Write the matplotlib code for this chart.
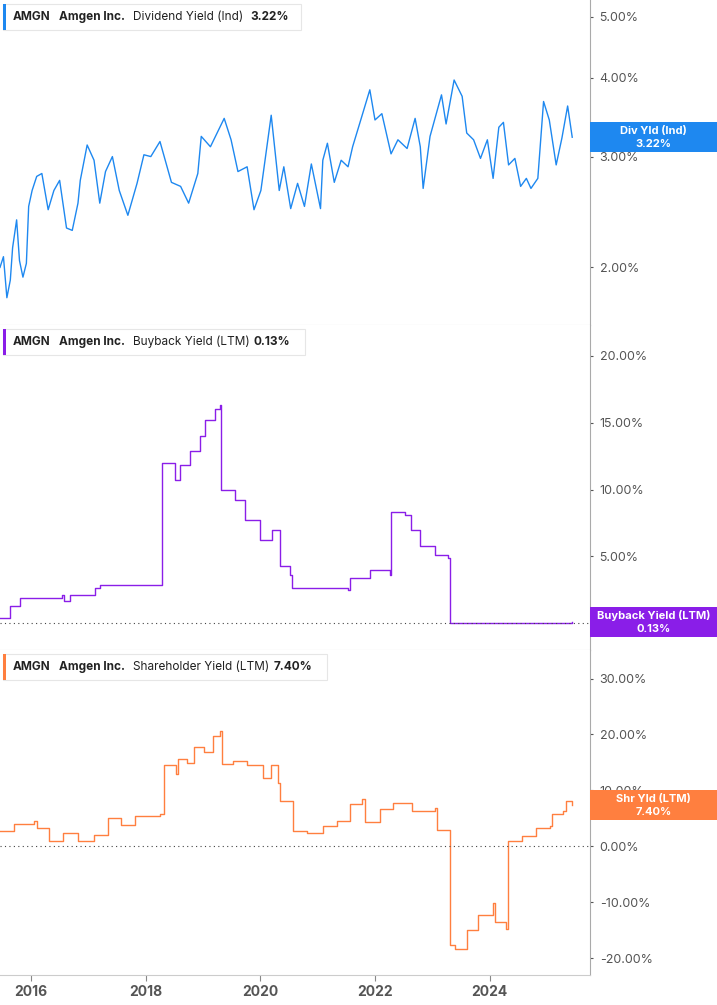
import numpy as np
import matplotlib.pyplot as plt
from matplotlib.patches import Rectangle
from matplotlib.ticker import FixedLocator, NullLocator

plt.rcParams['font.family'] = 'Inter'

# --- data ---
div_years = [2015.46, 2015.52, 2015.58, 2015.64, 2015.68, 2015.75, 2015.80, 2015.86, 2015.92, 2015.96,
             2016.02, 2016.10, 2016.19, 2016.30, 2016.40, 2016.50, 2016.62, 2016.72, 2016.82, 2016.86,
             2016.98, 2017.10, 2017.20, 2017.30, 2017.42, 2017.54, 2017.69, 2017.85, 2017.97, 2018.09,
             2018.25, 2018.45, 2018.61, 2018.75, 2018.91, 2018.97, 2019.13, 2019.37, 2019.49, 2019.61,
             2019.77, 2019.89, 2020.01, 2020.19, 2020.33, 2020.41, 2020.53, 2020.65, 2020.77, 2020.89,
             2021.05, 2021.09, 2021.17, 2021.29, 2021.41, 2021.53, 2021.61, 2021.76, 2021.91, 2022.00,
             2022.12, 2022.28, 2022.40, 2022.56, 2022.70, 2022.79, 2022.84, 2022.96, 2023.16, 2023.24,
             2023.38, 2023.52, 2023.60, 2023.72, 2023.84, 2023.96, 2024.06, 2024.16, 2024.24, 2024.33,
             2024.44, 2024.54, 2024.64, 2024.72, 2024.84, 2024.94, 2025.04, 2025.16, 2025.26, 2025.36,
             2025.44]
div_vals = [2.00, 2.08, 1.79, 1.91, 2.15, 2.38, 2.05, 1.93, 2.03, 2.50,
            2.65, 2.79, 2.82, 2.47, 2.65, 2.75, 2.31, 2.29, 2.53, 2.75,
            3.13, 2.96, 2.53, 2.84, 3.00, 2.65, 2.42, 2.72, 3.02, 3.00,
            3.17, 2.73, 2.69, 2.53, 2.82, 3.23, 3.11, 3.45, 3.19, 2.84,
            2.89, 2.47, 2.65, 3.49, 2.65, 2.89, 2.48, 2.72, 2.50, 2.92,
            2.48, 2.96, 3.15, 2.73, 2.96, 2.89, 3.11, 3.45, 3.83, 3.43,
            3.51, 3.03, 3.19, 3.09, 3.45, 3.11, 2.67, 3.23, 3.76, 3.38,
            3.97, 3.74, 3.27, 3.19, 2.98, 3.19, 2.77, 3.34, 3.40, 2.91,
            2.98, 2.69, 2.77, 2.67, 2.77, 3.67, 3.43, 2.91, 3.21, 3.61,
            3.22]

bb_years = [2015.46, 2015.63, 2015.81, 2016.54, 2016.58, 2016.68, 2017.12, 2017.21, 2018.25, 2018.29,
            2018.51, 2018.60, 2018.78, 2018.95, 2019.04, 2019.21, 2019.30, 2019.32, 2019.56, 2019.74,
            2020.00, 2020.21, 2020.35, 2020.52, 2020.56, 2021.53, 2021.57, 2021.92, 2022.27, 2022.28,
            2022.53, 2022.62, 2022.79, 2023.05, 2023.28, 2023.30, 2025.44]
bb_vals = [0.4, 1.3, 1.9, 2.1, 1.7, 2.1, 2.6, 2.85, 2.85, 12.0,
           10.7, 11.8, 12.9, 14.0, 15.2, 16.0, 16.3, 10.0, 9.2, 7.7,
           6.2, 7.0, 4.3, 3.6, 2.6, 2.5, 3.4, 4.0, 3.6, 8.3,
           8.1, 7.0, 5.8, 5.1, 4.9, 0.05, 0.13]

shr_years = [2015.46, 2015.70, 2016.06, 2016.10, 2016.32, 2016.56, 2016.82, 2017.10, 2017.34, 2017.57,
             2017.81, 2018.25, 2018.32, 2018.53, 2018.57, 2018.73, 2018.85, 2019.01, 2019.17, 2019.29,
             2019.33, 2019.53, 2019.77, 2020.05, 2020.18, 2020.31, 2020.34, 2020.57, 2020.82, 2021.09,
             2021.33, 2021.57, 2021.77, 2021.83, 2022.08, 2022.32, 2022.64, 2023.04, 2023.08, 2023.28,
             2023.30, 2023.40, 2023.60, 2023.80, 2024.06, 2024.10, 2024.28, 2024.32, 2024.56, 2024.80,
             2025.06, 2025.08, 2025.28, 2025.34, 2025.44]
shr_vals = [2.8, 4.0, 4.6, 3.3, 0.9, 2.4, 0.9, 2.1, 5.1, 3.8,
            5.4, 5.7, 14.6, 12.9, 15.6, 14.9, 17.7, 16.8, 19.8, 20.6,
            14.7, 15.3, 14.6, 12.3, 14.6, 11.4, 8.1, 2.7, 2.4, 3.6,
            4.5, 7.5, 8.4, 4.4, 6.6, 7.8, 6.3, 6.9, 3.0, 3.0,
            -17.7, -18.3, -15.0, -12.3, -10.2, -13.5, -14.7, 1.0, 1.8, 3.3,
            3.6, 5.8, 6.3, 8.1, 7.4]

x_ticks = [2016, 2018, 2020, 2022, 2024]

fig = plt.figure(figsize=(7.17, 10.05), dpi=100)
W, H = 717, 1005
right = 590 / W
tops = [0, 325, 650]
bots = [325, 650, 975]
axes = []
for t, b in zip(tops, bots):
    ax = fig.add_axes([0, 1 - b / H, right, (b - t) / H])
    axes.append(ax)

grey = '#555555'
for ax in axes:
    ax.set_xlim(2015.46, 2025.75)
    ax.yaxis.tick_right()
    for s in ['top', 'left']:
        ax.spines[s].set_visible(False)
    ax.spines['right'].set_color('#aaaaaa')
    ax.spines['bottom'].set_color('#cccccc')
    ax.tick_params(axis='y', colors=grey, labelsize=9, length=2, pad=5)
    ax.xaxis.set_major_locator(FixedLocator(x_ticks))
    ax.tick_params(axis='x', length=0, labelbottom=False)
axes[2].tick_params(axis='x', length=4, color='#888888', labelbottom=True,
                    labelsize=10, labelcolor=grey)
for lab in axes[2].get_xticklabels():
    lab.set_fontweight('bold')

# panel 1: dividend yield (log scale)
a1 = axes[0]
a1.plot(div_years, div_vals, color='#1e88f0', lw=1)
a1.set_yscale('log')
a1.set_ylim(1.62, 5.32)
a1.yaxis.set_major_locator(FixedLocator([2, 3, 4, 5]))
a1.yaxis.set_minor_locator(NullLocator())
a1.set_yticklabels(['2.00%', '3.00%', '4.00%', '5.00%'])

# panel 2: buyback yield
a2 = axes[1]
a2.plot(bb_years, bb_vals, color='#8a1ee8', lw=1, drawstyle='steps-post')
a2.set_ylim(-2.0, 22.3)
a2.set_yticks([5, 10, 15, 20])
a2.set_yticklabels(['5.00%', '10.00%', '15.00%', '20.00%'])
a2.axhline(0, color='#444444', lw=0.8, ls=(0, (1, 3)))

# panel 3: shareholder yield
a3 = axes[2]
a3.plot(shr_years, shr_vals, color='#ff7f3f', lw=1, drawstyle='steps-post')
a3.set_ylim(-23, 35.1)
yt = [-20, -10, 0, 10, 20, 30]
a3.set_yticks(yt)
a3.set_yticklabels([f'{v:.2f}%' for v in yt])
a3.axhline(0, color='#444444', lw=0.8, ls=(0, (1, 3)))

# legend boxes top-left
legends = [('Dividend Yield (Ind)', '3.22%', '#1e88f0', 298, 250),
           ('Buyback Yield (LTM)', '0.13%', '#8a1ee8', 302, 254),
           ('Shareholder Yield (LTM)', '7.40%', '#ff7f3f', 324, 274)]
for ax, (name, val, col, wpx, vx), t in zip(axes, legends, tops):
    y0 = 1 - (t + 30) / H
    fig.patches.append(Rectangle((3 / W, y0), wpx / W, 26 / H, transform=fig.transFigure,
                                 facecolor='white', edgecolor='#e6e6e6', lw=0.8))
    fig.patches.append(Rectangle((3 / W, y0), 3 / W, 26 / H, transform=fig.transFigure,
                                 facecolor=col, edgecolor='none'))
    yc = y0 + 13 / H
    fig.text(13 / W, yc, 'AMGN', fontsize=8.5, fontweight='bold', color='#222222', va='center')
    fig.text(59 / W, yc, 'Amgen Inc.', fontsize=8.5, fontweight='bold', color='#222222', va='center')
    fig.text(133 / W, yc, name, fontsize=8.5, color='#222222', va='center')
    fig.text(vx / W, yc, val, fontsize=8.5, fontweight='bold', color='#222222',
             va='center', ha='left')

# value tags on right
tags = [(a1, 3.22, 'Div Yld (Ind)', '3.22%', '#1e88f0'),
        (a2, 0.13, 'Buyback Yield (LTM)', '0.13%', '#8a1ee8'),
        (a3, 7.40, 'Shr Yld (LTM)', '7.40%', '#ff7f3f')]
for ax, v, l1, l2, col in tags:
    yd = ax.transData.transform((2020, v))[1] / fig.bbox.height
    hh = 30 / H
    fig.patches.append(Rectangle((right, yd - hh / 2), 1 - right, hh, transform=fig.transFigure,
                                 facecolor=col, edgecolor='none', zorder=5))
    xc = (right + 1) / 2
    fig.text(xc, yd + 6 / H, l1, fontsize=8, fontweight='bold', color='white',
             ha='center', va='center', zorder=6)
    fig.text(xc, yd - 7 / H, l2, fontsize=8, fontweight='bold', color='white',
             ha='center', va='center', zorder=6)

fig.savefig('out.png', dpi=100)
